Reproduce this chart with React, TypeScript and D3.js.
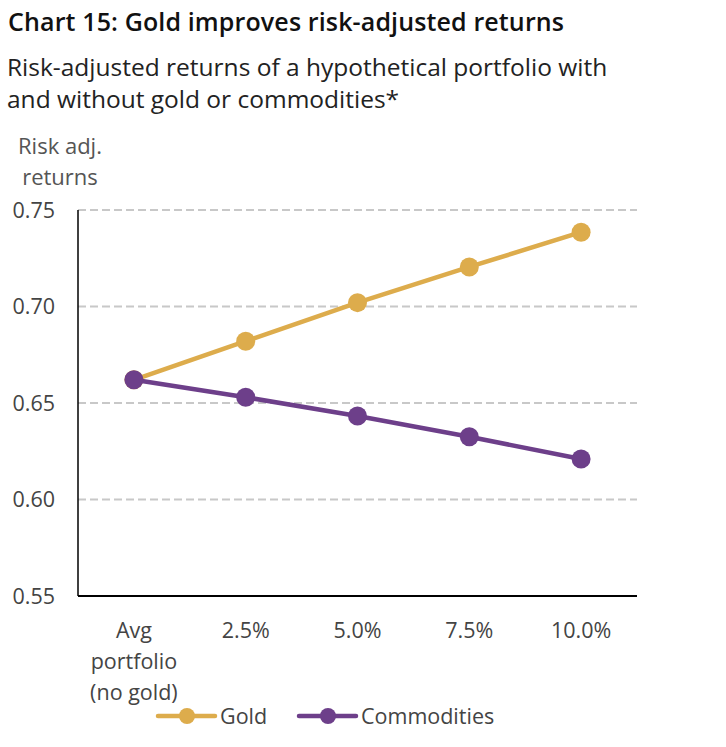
import React, { useEffect, useRef } from 'react';
import * as d3 from 'd3';

const categories = ['Avg portfolio (no gold)', '2.5%', '5.0%', '7.5%', '10.0%'];
const categoryLines = [['Avg', 'portfolio', '(no gold)'], ['2.5%'], ['5.0%'], ['7.5%'], ['10.0%']];
const goldValues = [0.662, 0.682, 0.702, 0.7205, 0.7385];
const commodityValues = [0.662, 0.653, 0.6433, 0.6325, 0.621];
const yTicks = [0.55, 0.6, 0.65, 0.7, 0.75];

const GOLD = '#DDAC4C';
const PURPLE = '#6D3F8A';
const FONT = "'Open Sans', 'Noto Sans', sans-serif";

const App = () => {
  const ref = useRef<SVGSVGElement>(null);

  useEffect(() => {
    document.body.style.margin = '0';
    const svg = d3.select(ref.current);
    svg.selectAll('*').remove();

    const left = 78;
    const right = 637;
    const top = 210;
    const bottom = 596;

    svg
      .append('text')
      .attr('x', 8)
      .attr('y', 31)
      .attr('font-family', FONT)
      .attr('font-weight', 600)
      .attr('font-size', 25)
      .attr('textLength', 556)
      .attr('fill', '#111')
      .text('Chart 15: Gold improves risk-adjusted returns');

    ['Risk-adjusted returns of a hypothetical portfolio with', 'and without gold or commodities*'].forEach((t, i) => {
      svg
        .append('text')
        .attr('x', 7)
        .attr('y', 76 + i * 32)
        .attr('font-family', FONT)
        .attr('font-size', 24.5)
        .attr('fill', '#222')
        .text(t);
    });

    ['Risk adj.', 'returns'].forEach((t, i) => {
      svg
        .append('text')
        .attr('x', 60)
        .attr('y', 154 + i * 31)
        .attr('text-anchor', 'middle')
        .attr('font-family', FONT)
        .attr('font-size', 22)
        .attr('fill', '#555')
        .text(t);
    });

    const x = d3.scaleBand<string>().domain(categories).range([left, right]);
    const y = d3.scaleLinear().domain([0.55, 0.75]).range([bottom, top]);
    const cx = (i: number) => x(categories[i])! + x.bandwidth() / 2;

    // gridlines
    svg
      .append('g')
      .selectAll('line')
      .data(yTicks.filter(t => t > 0.55))
      .join('line')
      .attr('x1', left)
      .attr('x2', right)
      .attr('y1', d => y(d))
      .attr('y2', d => y(d))
      .attr('stroke', '#c8c8c8')
      .attr('stroke-width', 2)
      .attr('stroke-dasharray', '8,4');

    // y tick labels
    svg
      .append('g')
      .selectAll('text')
      .data(yTicks)
      .join('text')
      .attr('x', 55)
      .attr('y', d => y(d))
      .attr('dy', '0.35em')
      .attr('text-anchor', 'end')
      .attr('font-family', FONT)
      .attr('font-size', 21.5)
      .attr('fill', '#444')
      .text(d => d.toFixed(2));

    // axes
    svg
      .append('line')
      .attr('x1', left)
      .attr('x2', left)
      .attr('y1', top)
      .attr('y2', bottom)
      .attr('stroke', '#000')
      .attr('stroke-width', 1.5);
    svg
      .append('line')
      .attr('x1', left)
      .attr('x2', right)
      .attr('y1', bottom)
      .attr('y2', bottom)
      .attr('stroke', '#000')
      .attr('stroke-width', 2);

    // x labels
    categoryLines.forEach((lines, i) => {
      lines.forEach((t, j) => {
        svg
          .append('text')
          .attr('x', cx(i))
          .attr('y', 638 + j * 31)
          .attr('text-anchor', 'middle')
          .attr('font-family', FONT)
          .attr('font-size', 21.5)
          .attr('fill', '#444')
          .text(t);
      });
    });

    const line = d3
      .line<number>()
      .x((_, i) => cx(i))
      .y(d => y(d));

    const series = [
      { name: 'Gold', values: goldValues, color: GOLD },
      { name: 'Commodities', values: commodityValues, color: PURPLE },
    ];

    series.forEach(s => {
      svg
        .append('path')
        .datum(s.values)
        .attr('fill', 'none')
        .attr('stroke', s.color)
        .attr('stroke-width', 4.5)
        .attr('d', line);
      svg
        .append('g')
        .selectAll('circle')
        .data(s.values)
        .join('circle')
        .attr('cx', (_, i) => cx(i))
        .attr('cy', d => y(d))
        .attr('r', 9.5)
        .attr('fill', s.color);
    });

    // legend
    const legendX = [158, 299];
    series.forEach((s, i) => {
      const lx = legendX[i];
      svg
        .append('line')
        .attr('x1', lx)
        .attr('x2', lx + 57)
        .attr('y1', 716)
        .attr('y2', 716)
        .attr('stroke', s.color)
        .attr('stroke-width', 4.5)
        .attr('stroke-linecap', 'round');
      svg
        .append('circle')
        .attr('cx', lx + 29)
        .attr('cy', 716)
        .attr('r', 8)
        .attr('fill', s.color);
      svg
        .append('text')
        .attr('x', lx + 62)
        .attr('y', 716)
        .attr('dy', '0.35em')
        .attr('font-family', FONT)
        .attr('font-size', 21.5)
        .attr('fill', '#444')
        .text(s.name);
    });
  }, []);

  return <svg ref={ref} width={726} height={747} style={{ display: 'block' }}></svg>;
};

export default App;
